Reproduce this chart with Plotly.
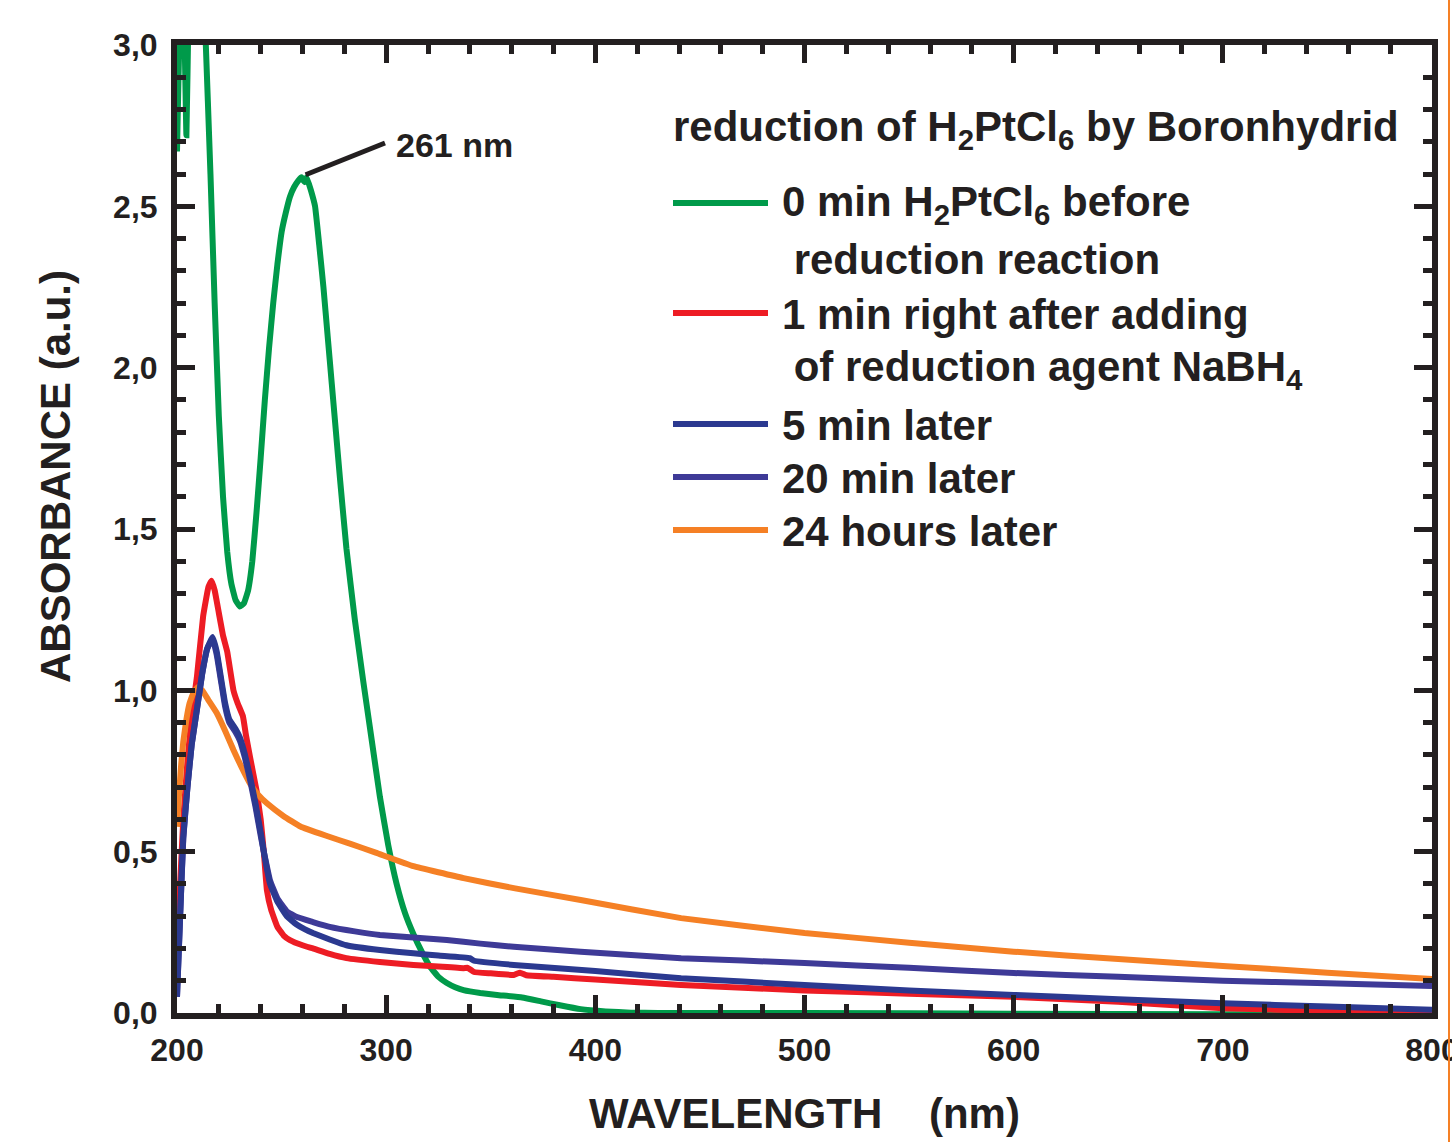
import plotly.graph_objects as go

# ---------------- data ----------------
wl_0min = [200, 201.5, 203, 204.5, 205.5, 208, 211, 213.5, 216, 218, 220, 222, 224, 226, 228, 230,
           232, 234, 236, 238, 240, 242, 244, 246, 248, 250, 252, 254, 256, 258, 259.5, 261,
           262, 264, 266, 268, 270, 272, 274, 276, 278, 281, 285, 289, 293, 297, 301,
           305, 309, 313, 317, 321, 325, 329, 333, 337, 345, 353, 365, 374, 383, 393, 405,
           417, 430, 500, 600, 700, 800]
abs_0min = [2.67, 3.1, 3.2, 2.72, 3.1, 3.6, 3.5, 3.05, 2.6, 2.2, 1.85, 1.6, 1.43, 1.33, 1.28, 1.26,
            1.27, 1.31, 1.4, 1.55, 1.72, 1.9, 2.06, 2.2, 2.32, 2.42, 2.48, 2.53, 2.56, 2.58, 2.59, 2.575,
            2.59, 2.55, 2.5, 2.38, 2.25, 2.1, 1.95, 1.8, 1.65, 1.44, 1.22, 1.03, 0.85, 0.67, 0.52,
            0.4, 0.31, 0.245, 0.19, 0.143, 0.112, 0.093, 0.08, 0.071, 0.062, 0.056, 0.048, 0.036, 0.024, 0.012, 0.005,
            0.001, 0.0, 0.0, -0.002, -0.004, -0.005]

wl_1min = [200, 201.5, 203, 205, 207, 209.5, 212.5, 215, 216.5, 218, 220, 222, 224, 227, 229,
           231.5, 233, 235, 238, 240, 241.5, 243, 245, 248, 251, 254, 260, 265, 273, 281, 297,
           313, 325, 337, 339, 342, 350, 361, 364, 367, 380, 400, 441, 500, 550, 600, 650, 700,
           750, 800]
abs_1min = [0.22, 0.4, 0.6, 0.78, 0.92, 1.04, 1.23, 1.32, 1.34, 1.31, 1.24, 1.17, 1.12, 1.0, 0.96,
            0.92, 0.86, 0.79, 0.69, 0.6, 0.5, 0.38, 0.32, 0.267, 0.24, 0.226, 0.21, 0.2, 0.183, 0.17, 0.158,
            0.149, 0.144, 0.139, 0.14, 0.127, 0.123, 0.118, 0.125, 0.117, 0.112, 0.104, 0.087, 0.07, 0.06, 0.05, 0.035, 0.015,
            0.006, 0.003]

wl_5min = [200, 201.5, 203, 205, 207, 209.5, 212, 214.5, 217, 219, 221, 223, 225, 228, 230,
           232.5, 235, 237.5, 240, 241.5, 244.5, 248, 252.5, 257, 261, 265, 273, 281, 297, 313,
           325, 340, 342, 361, 400, 441, 500, 550, 600, 650, 700, 750, 800]
abs_5min = [0.05, 0.3, 0.545, 0.7, 0.83, 0.94, 1.05, 1.13, 1.165, 1.12, 1.04, 0.96, 0.91, 0.88, 0.855,
            0.8, 0.73, 0.65, 0.56, 0.5, 0.4, 0.345, 0.3, 0.275, 0.26, 0.248, 0.228, 0.21, 0.195, 0.185,
            0.178, 0.17, 0.162, 0.149, 0.13, 0.108, 0.087, 0.07, 0.056, 0.043, 0.03, 0.02, 0.01]

wl_20min = [200, 201.5, 203, 205, 207, 209.5, 212, 214.5, 217, 219, 221, 223, 225, 228, 230,
            232.5, 235, 237.5, 240, 241.5, 244.5, 248, 252.5, 257, 265, 273, 285, 297, 313, 329,
            345, 361, 393, 441, 500, 550, 600, 650, 700, 750, 800]
abs_20min = [0.05, 0.3, 0.54, 0.7, 0.83, 0.94, 1.05, 1.13, 1.16, 1.11, 1.03, 0.95, 0.9, 0.87, 0.845,
             0.79, 0.72, 0.64, 0.55, 0.5, 0.41, 0.355, 0.315, 0.298, 0.282, 0.267, 0.253, 0.242, 0.234, 0.226,
             0.215, 0.205, 0.19, 0.17, 0.155, 0.14, 0.124, 0.112, 0.1, 0.092, 0.084]

wl_24h = [200, 201, 202, 203, 204.5, 206, 208, 210, 212, 215, 219, 223, 227, 231, 235, 239, 243, 251,
          259, 271, 283, 295, 313, 337, 361, 393, 441, 500, 550, 600, 650, 700, 750, 800]
abs_24h = [0.577, 0.68, 0.77, 0.84, 0.91, 0.96, 0.995, 1.01, 1.0, 0.97, 0.93, 0.875, 0.815, 0.76, 0.71, 0.675, 0.65, 0.61,
           0.578, 0.55, 0.524, 0.497, 0.455, 0.418, 0.387, 0.35, 0.294, 0.248, 0.218, 0.19, 0.167, 0.146, 0.125, 0.105]

peak_wl = 261
peak_abs = 2.588

x_ticks = [200, 300, 400, 500, 600, 700, 800]
y_ticks = [0.0, 0.5, 1.0, 1.5, 2.0, 2.5, 3.0]

# ---------------- style ----------------
BLACK = "#231F20"
GREEN = "#009A4A"
RED = "#ED1C24"
BLUE5 = "#2B3990"
BLUE20 = "#3E3A97"
ORANGE = "#F58025"
FONT = "Liberation Sans, Arial, sans-serif"

W, H = 1452, 1142
L, R, T, B = 177, 20, 45, 129
PW, PH = W - L - R, H - T - B


def px(xp):
    return (xp - L) / PW


def py(yp):
    return (T + PH - yp) / PH


fig = go.Figure()
series = [
    (wl_0min, abs_0min, GREEN),
    (wl_1min, abs_1min, RED),
    (wl_24h, abs_24h, ORANGE),
    (wl_20min, abs_20min, BLUE20),
    (wl_5min, abs_5min, BLUE5),
]
for xs, ys, c in series:
    fig.add_trace(go.Scatter(x=xs, y=ys, mode="lines", showlegend=False,
                             line=dict(color=c, width=6, shape="spline", smoothing=0.3),
                             hoverinfo="skip"))

bold = dict(family=FONT, color=BLACK)

fig.update_layout(
    width=W, height=H,
    margin=dict(l=L, r=R, t=T, b=B, pad=0, autoexpand=False),
    paper_bgcolor="white", plot_bgcolor="white",
    font=dict(family=FONT, color=BLACK),
    xaxis=dict(range=[200, 800], tickvals=x_ticks, ticktext=["<b>%d</b>" % v for v in x_ticks],
               ticks="inside", ticklen=18, tickwidth=5, tickcolor=BLACK,
               minor=dict(dtick=20, ticks="inside", ticklen=9, tickwidth=5, tickcolor=BLACK, showgrid=False),
               showline=True, linewidth=6, linecolor=BLACK, mirror="ticks",
               showgrid=False, zeroline=False, ticklabeloverflow="allow", automargin=False,
               tickfont=dict(size=32, **bold), ticklabelstandoff=4),
    yaxis=dict(range=[0, 3], tickvals=y_ticks,
               ticktext=["<b>%s</b>" % ("%.1f" % v).replace(".", ",") for v in y_ticks],
               ticks="inside", ticklen=18, tickwidth=5, tickcolor=BLACK,
               minor=dict(dtick=0.1, ticks="inside", ticklen=9, tickwidth=5, tickcolor=BLACK, showgrid=False),
               showline=True, linewidth=6, linecolor=BLACK, mirror="ticks",
               showgrid=False, zeroline=False, ticklabeloverflow="allow", automargin=False,
               tickfont=dict(size=32, **bold), ticklabelstandoff=7),
)

# axis titles
fig.add_annotation(xref="paper", yref="paper", x=px(804), y=py(1113), xanchor="center", yanchor="middle",
                   text="<b>WAVELENGTH\u00a0\u00a0\u00a0\u00a0(nm)</b>", showarrow=False,
                   font=dict(size=42, **bold))
fig.add_annotation(xref="paper", yref="paper", x=px(56), y=py(477), xanchor="center", yanchor="middle",
                   text="<b>ABSORBANCE (a.u.)</b>", textangle=-90, showarrow=False,
                   font=dict(size=42, **bold))

# peak annotation
fig.add_shape(type="line", xref="x", yref="y", x0=peak_wl + 0.5, y0=peak_abs + 0.01,
              x1=px(385) * 600 + 200, y1=py(143) * 3, line=dict(color=BLACK, width=5))
fig.add_annotation(xref="paper", yref="paper", x=px(394), y=py(145), xanchor="left", yanchor="middle",
                   text="<b>%d nm</b>" % peak_wl, showarrow=False, font=dict(size=34, **bold))

# legend (drawn by hand)
fig.add_annotation(xref="paper", yref="paper", x=px(671), y=py(129), xanchor="left", yanchor="middle",
                   text="<b>reduction of H<sub>2</sub>PtCl<sub>6</sub> by Boronhydrid</b>", showarrow=False,
                   font=dict(size=42, **bold))
legend_items = [
    (GREEN, 203, ["<b>0 min H<sub>2</sub>PtCl<sub>6</sub> before</b>", "<b>\u00a0reduction reaction</b>"]),
    (RED, 313, ["<b>1 min right after adding</b>", "<b>\u00a0of reduction agent NaBH<sub>4</sub></b>"]),
    (BLUE5, 424, ["<b>5 min later</b>"]),
    (BLUE20, 477, ["<b>20 min later</b>"]),
    (ORANGE, 530, ["<b>24 hours later</b>"]),
]
for c, yc, lines in legend_items:
    fig.add_shape(type="line", xref="paper", yref="paper", x0=px(673), x1=px(768), y0=py(yc), y1=py(yc),
                  line=dict(color=c, width=6))
    for i, t in enumerate(lines):
        fig.add_annotation(xref="paper", yref="paper", x=px(780), y=py(yc + 1 + i * 56),
                           xanchor="left", yanchor="middle", text=t,
                           showarrow=False, font=dict(size=42, **bold))

# orange edge line at the right of the page
fig.add_shape(type="line", xref="paper", yref="paper", x0=px(1449), x1=px(1449), y0=py(1142), y1=py(0),
              line=dict(color=ORANGE, width=2))

fig.write_html("out.html", config={"displayModeBar": False},
               post_script="document.documentElement.style.overflow='hidden';"
                           "document.body.style.margin='0px';document.body.style.overflow='hidden';")
